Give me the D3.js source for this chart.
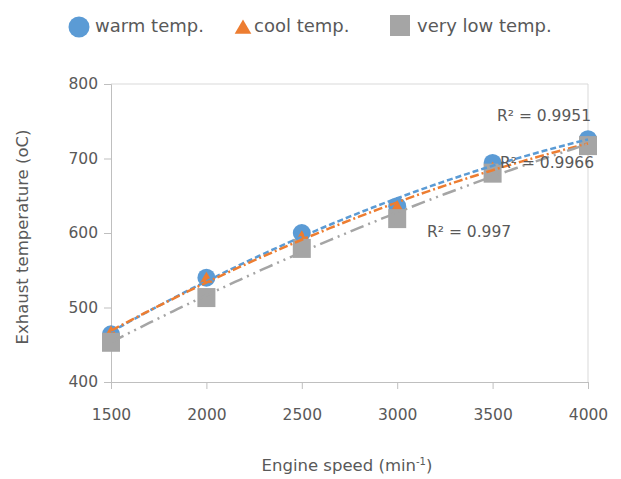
<!DOCTYPE html>
<html>
<head>
<meta charset="utf-8">
<script src="https://cdn.jsdelivr.net/npm/d3@7"></script>
<style>
body { margin: 0; background: #fff; }
text { font-family: "DejaVu Sans", sans-serif; fill: #595959; }
</style>
</head>
<body>
<div id="canvas"></div>
<script>
var margin = {top: 84, right: 33, bottom: 97, left: 111},
    width = 621 - margin.left - margin.right,
    height = 479 - margin.top - margin.bottom;

const speeds = [1500, 2000, 2500, 3000, 3500, 4000]
const warmTemp = [464, 540, 600, 636, 694, 726]
const coolTemp = [466, 538, 594, 634, 686, 721]
const veryLowTemp = [454, 514, 580, 620, 681, 718]
const rSquared = ["0.9951", "0.9966", "0.997"]
const yTicks = [400, 500, 600, 700, 800]

const svg = d3.select("#canvas")
    .append("svg")
    .attr("width", 621)
    .attr("height", 479)

const canvas = svg.append("g")
    .attr("transform", "translate(" + margin.left + "," + margin.top + ")")

const xScale = d3.scaleLinear().domain([1500, 4000]).range([0, width])
const yScale = d3.scaleLinear().domain([400, 800]).range([height, 0])

// frame top + right
canvas.append("path")
    .attr("d", "M0,0H" + width + "V" + height)
    .attr("fill", "none")
    .attr("stroke", "#d9d9d9")

const xAxis = canvas.append("g")
    .attr("transform", "translate(0," + height + ")")
    .call(d3.axisBottom(xScale).tickValues(speeds).tickSize(7).tickPadding(20).tickFormat(d3.format("d")))
const yAxis = canvas.append("g")
    .call(d3.axisLeft(yScale).tickValues(yTicks).tickSize(7).tickPadding(6))

;[xAxis, yAxis].forEach(a => {
    a.select(".domain").attr("stroke", "#bfbfbf")
    a.selectAll(".tick line").attr("stroke", "#bfbfbf")
    a.selectAll("text").attr("font-size", 15.5).attr("fill", "#595959")
        .style("font-family", "'DejaVu Sans', sans-serif")
})

// quadratic least squares fit for trendlines
function polyFit(xs, ys) {
    let s = [0, 0, 0, 0, 0], t = [0, 0, 0]
    xs.forEach((x, i) => {
        let u = x / 1000
        for (let k = 0; k < 5; k++) s[k] += Math.pow(u, k)
        for (let k = 0; k < 3; k++) t[k] += ys[i] * Math.pow(u, k)
    })
    let A = [[s[0], s[1], s[2], t[0]], [s[1], s[2], s[3], t[1]], [s[2], s[3], s[4], t[2]]]
    for (let i = 0; i < 3; i++) {
        for (let j = i + 1; j < 3; j++) {
            let f = A[j][i] / A[i][i]
            for (let k = i; k < 4; k++) A[j][k] -= f * A[i][k]
        }
    }
    let c = [0, 0, 0]
    for (let i = 2; i >= 0; i--) {
        let v = A[i][3]
        for (let k = i + 1; k < 3; k++) v -= A[i][k] * c[k]
        c[i] = v / A[i][i]
    }
    return x => c[0] + c[1] * (x / 1000) + c[2] * Math.pow(x / 1000, 2)
}

const series = [
    {name: "warm temp.", values: warmTemp, color: "#5b9bd5", dash: "6,3"},
    {name: "cool temp.", values: coolTemp, color: "#ed7d31", dash: "9,3,2,3"},
    {name: "very low temp.", values: veryLowTemp, color: "#a5a5a5", dash: "14,5,2,5,2,5"}
]

// markers
canvas.selectAll(".warm").data(speeds).join("circle")
    .attr("cx", (d) => xScale(d))
    .attr("cy", (d, i) => yScale(warmTemp[i]))
    .attr("r", 9)
    .attr("fill", "#5b9bd5")

const tri = d3.symbol().type(d3.symbolTriangle).size(70)
canvas.selectAll(".cool").data(speeds).join("path")
    .attr("d", tri)
    .attr("transform", (d, i) => "translate(" + xScale(d) + "," + yScale(coolTemp[i]) + ")")
    .attr("fill", "#ed7d31")

canvas.selectAll(".low").data(speeds).join("rect")
    .attr("x", (d) => xScale(d) - 9)
    .attr("y", (d, i) => yScale(veryLowTemp[i]) - 9)
    .attr("width", 18)
    .attr("height", 19)
    .attr("fill", "#a5a5a5")

// trendlines
const line = d3.line().x(d => xScale(d[0])).y(d => yScale(d[1]))
series.forEach(s => {
    let f = polyFit(speeds, s.values)
    let pts = d3.range(1500, 4001, 25).map(x => [x, f(x)])
    canvas.append("path")
        .attr("d", line(pts))
        .attr("fill", "none")
        .attr("stroke", s.color)
        .attr("stroke-width", 2.5)
        .attr("stroke-dasharray", s.dash)
})

// R² labels
const rPos = [[386, 37], [389, 84], [316, 153]]
rSquared.forEach((r, i) => {
    canvas.append("text")
        .attr("x", rPos[i][0])
        .attr("y", rPos[i][1])
        .attr("font-size", 15.5)
        .attr("fill", "#404040")
        .text("R² = " + r)
})

// axis titles
svg.append("text")
    .attr("transform", "translate(28,237) rotate(-90)")
    .attr("text-anchor", "middle")
    .attr("font-size", 16.5)
    .text("Exhaust temperature (oC)")

const xt = svg.append("text")
    .attr("x", 347)
    .attr("y", 471)
    .attr("text-anchor", "middle")
    .attr("font-size", 16.5)
xt.append("tspan").text("Engine speed  (min")
xt.append("tspan").attr("dy", -6).attr("font-size", 10).text("-1")
xt.append("tspan").attr("dy", 6).text(")")

// legend
const legend = svg.append("g")
legend.append("circle").attr("cx", 79).attr("cy", 27).attr("r", 10.5).attr("fill", "#5b9bd5")
legend.append("path").attr("d", d3.symbol().type(d3.symbolTriangle).size(120))
    .attr("transform", "translate(243,29)").attr("fill", "#ed7d31")
legend.append("rect").attr("x", 390).attr("y", 15).attr("width", 20).attr("height", 21).attr("fill", "#a5a5a5")
const legX = [95, 254, 417]
series.forEach((s, i) => {
    legend.append("text")
        .attr("x", legX[i])
        .attr("y", 32)
        .attr("font-size", 18)
        .text(s.name)
})
</script>
</body>
</html>
